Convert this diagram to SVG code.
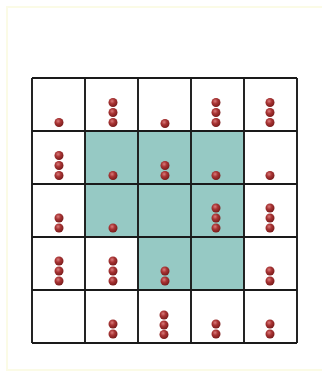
<svg xmlns="http://www.w3.org/2000/svg" width="322" height="371" viewBox="0 0 322 371">
  <style>
    .frame { fill: #ffffff; stroke: #fbfbe6; stroke-width: 2; }
    .hl { fill: #96c9c4; stroke: none; }
    .grid { stroke: #1a1a1a; stroke-width: 1.9; fill: none; }
    .dot { fill: url(#ball); }
  </style>
  <defs>
    <radialGradient id="ball" cx="0.4" cy="0.35" r="0.65">
      <stop offset="0" stop-color="#d97a7a"/>
      <stop offset="0.45" stop-color="#a83434"/>
      <stop offset="1" stop-color="#7a1c1c"/>
    </radialGradient>
  </defs>
  <rect x="0" y="0" width="322" height="371" fill="#ffffff"/>
  <rect class="frame" x="7" y="7" width="318" height="363"/>

  <g id="cells">
    <rect class="hl" x="85" y="131" width="159" height="106"/>
    <rect class="hl" x="138" y="237" width="106" height="53"/>
  </g>

  <g id="grid">
    <path class="grid" d="M32 78H297M32 131H297M32 184H297M32 237H297M32 290H297M32 343H297M32 78V343M85 78V343M138 78V343M191 78V343M244 78V343M297 78V343"/>
  </g>

  <g id="dots">
    <!-- row 0 -->
    <circle class="dot" cx="59" cy="122.5" r="4.5"/>
    <circle class="dot" cx="113" cy="102.5" r="4.5"/><circle class="dot" cx="113" cy="112.5" r="4.5"/><circle class="dot" cx="113" cy="122.5" r="4.5"/>
    <circle class="dot" cx="165" cy="123.5" r="4.5"/>
    <circle class="dot" cx="216" cy="102.5" r="4.5"/><circle class="dot" cx="216" cy="112.5" r="4.5"/><circle class="dot" cx="216" cy="122.5" r="4.5"/>
    <circle class="dot" cx="270" cy="102.5" r="4.5"/><circle class="dot" cx="270" cy="112.5" r="4.5"/><circle class="dot" cx="270" cy="122.5" r="4.5"/>
    <!-- row 1 -->
    <circle class="dot" cx="59" cy="155.5" r="4.5"/><circle class="dot" cx="59" cy="165.5" r="4.5"/><circle class="dot" cx="59" cy="175.5" r="4.5"/>
    <circle class="dot" cx="113" cy="175.5" r="4.5"/>
    <circle class="dot" cx="165" cy="165.5" r="4.5"/><circle class="dot" cx="165" cy="175.5" r="4.5"/>
    <circle class="dot" cx="216" cy="175.5" r="4.5"/>
    <circle class="dot" cx="270" cy="175.5" r="4.5"/>
    <!-- row 2 -->
    <circle class="dot" cx="59" cy="218" r="4.5"/><circle class="dot" cx="59" cy="228" r="4.5"/>
    <circle class="dot" cx="113" cy="228" r="4.5"/>
    <circle class="dot" cx="216" cy="208" r="4.5"/><circle class="dot" cx="216" cy="218" r="4.5"/><circle class="dot" cx="216" cy="228" r="4.5"/>
    <circle class="dot" cx="270" cy="208" r="4.5"/><circle class="dot" cx="270" cy="218" r="4.5"/><circle class="dot" cx="270" cy="228" r="4.5"/>
    <!-- row 3 -->
    <circle class="dot" cx="59" cy="261" r="4.5"/><circle class="dot" cx="59" cy="271" r="4.5"/><circle class="dot" cx="59" cy="281" r="4.5"/>
    <circle class="dot" cx="113" cy="261" r="4.5"/><circle class="dot" cx="113" cy="271" r="4.5"/><circle class="dot" cx="113" cy="281" r="4.5"/>
    <circle class="dot" cx="165" cy="271" r="4.5"/><circle class="dot" cx="165" cy="281" r="4.5"/>
    <circle class="dot" cx="270" cy="271" r="4.5"/><circle class="dot" cx="270" cy="281" r="4.5"/>
    <!-- row 4 -->
    <circle class="dot" cx="113" cy="324" r="4.5"/><circle class="dot" cx="113" cy="334" r="4.5"/>
    <circle class="dot" cx="164" cy="315" r="4.5"/><circle class="dot" cx="164" cy="325" r="4.5"/><circle class="dot" cx="164" cy="334.5" r="4.5"/>
    <circle class="dot" cx="216" cy="324" r="4.5"/><circle class="dot" cx="216" cy="334" r="4.5"/>
    <circle class="dot" cx="270" cy="324" r="4.5"/><circle class="dot" cx="270" cy="334" r="4.5"/>
  </g>
</svg>
